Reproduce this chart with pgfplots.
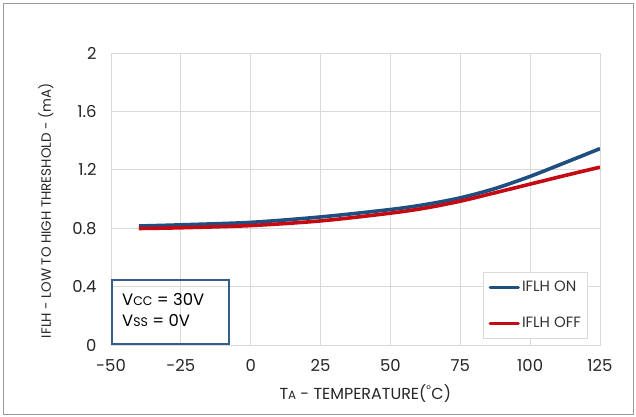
\documentclass[border=0pt]{standalone}
\usepackage{pgfplots}
\pgfplotsset{compat=1.18}
\usepackage{fontspec}
\setmainfont{Poppins}
\definecolor{onblue}{RGB}{31,78,128}
\definecolor{offred}{RGB}{196,10,18}
\definecolor{gridgray}{RGB}{217,217,217}
\definecolor{boxblue}{RGB}{52,92,140}
\begin{document}
\begin{tikzpicture}
\useasboundingbox (-111bp,-72bp) rectangle (525bp,345bp);
\draw[line width=1bp, gray!80] (-107bp,-69bp) rectangle (522bp,341bp);
\begin{axis}[
  at={(0,0)}, anchor=south west,
  scale only axis, width=489bp, height=292bp,
  xmin=-50, xmax=125, ymin=0, ymax=2,
  xtick={-50,-25,0,25,50,75,100,125},
  xticklabels={-50,-25,0,25,50,75,100,125},
  ytick={0,0.4,0.8,1.2,1.6,2},
  yticklabels={0,0.4,0.8,1.2,1.6,2},
  tick style={draw=none},
  grid=major, major grid style={gridgray, line width=0.8bp},
  axis line style={gridgray, line width=0.8bp},
  ticklabel style={font=\fontsize{16.5}{18}\selectfont, text=black!85},
  xticklabel style={yshift=-11bp},
  yticklabel style={xshift=-11bp},
  xlabel={T{\fontsize{12}{14}\selectfont A} - TEMPERATURE(\textsuperscript{\textdegree}C)},
  xlabel style={font=\fontsize{16}{18}\selectfont, text=black!85, at={(ticklabel cs:0.52)}, yshift=-6bp},
  ylabel={IFLH - LOW TO HIGH THRESHOLD - (mA)},
  ylabel style={font=\fontsize{13.5}{15}\selectfont, text=black!85, at={(ticklabel cs:0.46)}, yshift=12bp},
  legend style={at={(0.761,0.25)}, anchor=north west, draw=gridgray, line width=0.8bp,
    font=\fontsize{15}{17}\selectfont, text=black!80, row sep=20bp,
    inner xsep=5bp, inner ysep=7bp},
  legend cell align=left,
  legend image code/.code={\draw[#1, line width=3.5bp, line cap=round] (0bp,0bp) -- (28bp,0bp);},
]
\addplot[onblue, line width=3.6bp, smooth] coordinates {
(-40,0.815) (-25,0.823) (0,0.840) (25,0.877) (50,0.928) (62.5,0.962) (75,1.008) (87.5,1.072) (100,1.155) (112.5,1.249) (125,1.345)};
\addlegendentry{IFLH ON}
\addplot[offred, line width=3.6bp, smooth] coordinates {
(-40,0.798) (-25,0.803) (0,0.818) (25,0.850) (50,0.903) (62.5,0.938) (75,0.985) (87.5,1.043) (100,1.102) (112.5,1.161) (125,1.218)};
\addlegendentry{IFLH OFF}
\node[draw=boxblue, line width=1.6bp, anchor=south west, minimum width=117bp, minimum height=64bp, inner sep=0pt] at (rel axis cs:0,0) {};
\node[anchor=west, inner sep=0pt, font=\fontsize{16.5}{22}\selectfont, align=left] at (rel axis cs:0.0225,0.12) {V{\fontsize{12.5}{14}\selectfont CC} = 30V\\V{\fontsize{12.5}{14}\selectfont SS} = 0V};
\end{axis}
\end{tikzpicture}
\end{document}
